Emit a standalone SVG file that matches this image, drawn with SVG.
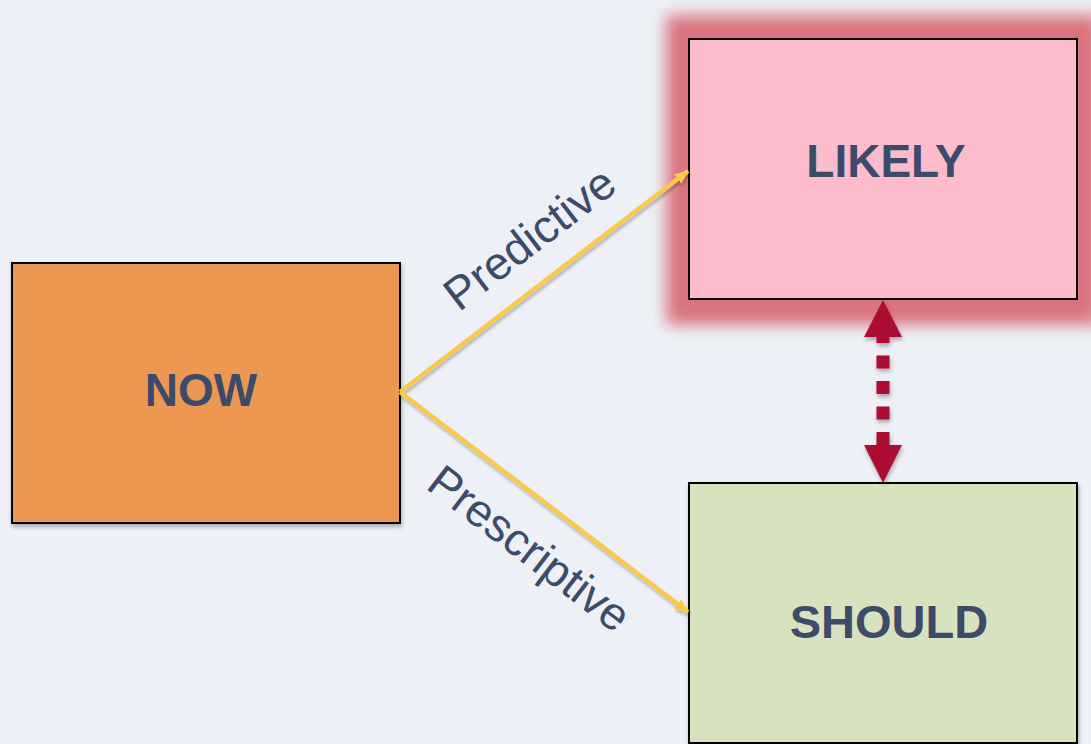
<svg xmlns="http://www.w3.org/2000/svg" width="1091" height="744" viewBox="0 0 1091 744">
<defs>
<style>
.box{stroke:#000;stroke-width:2}
.lbl{font-family:"Liberation Sans",Arial,sans-serif;font-weight:bold;font-size:46px;fill:#3d4b6a;text-anchor:middle}
.elbl{font-family:"Liberation Sans",Arial,sans-serif;font-size:46px;fill:#3d4b6a;text-anchor:middle}
.yl{stroke:#f8c94c;stroke-width:4.5;fill:none}
</style>
<filter id="sh" x="-10%" y="-10%" width="130%" height="130%">
<feGaussianBlur in="SourceAlpha" stdDeviation="2"/>
<feOffset dx="1" dy="3" result="b"/>
<feComponentTransfer><feFuncA type="linear" slope="0.3"/></feComponentTransfer>
<feMerge><feMergeNode/><feMergeNode in="SourceGraphic"/></feMerge>
</filter>
<filter id="lsh" filterUnits="userSpaceOnUse" x="380" y="140" width="330" height="500">
<feGaussianBlur in="SourceAlpha" stdDeviation="1.5"/>
<feOffset dx="1" dy="3"/>
<feComponentTransfer><feFuncA type="linear" slope="0.25"/></feComponentTransfer>
<feMerge><feMergeNode/><feMergeNode in="SourceGraphic"/></feMerge>
</filter>
<filter id="glow" x="-20%" y="-20%" width="140%" height="140%">
<feGaussianBlur stdDeviation="8"/>
</filter>
<marker id="ya" viewBox="0 0 14 12" refX="13" refY="6" markerWidth="14" markerHeight="12" markerUnits="userSpaceOnUse" orient="auto">
<path d="M0,0 L14,6 L0,12 Z" fill="#f8c94c"/>
</marker>
</defs>
<rect width="1091" height="744" fill="#edf1f7"/>
<g id="now">
<rect class="box" x="12" y="263" width="388" height="260" fill="#ec9852" filter="url(#sh)"/>
<text class="lbl" x="201" y="406">NOW</text>
</g>
<g id="likely">
<rect x="666" y="15" width="435" height="310" fill="#d9737f" filter="url(#glow)"/>
<rect class="box" x="689" y="39" width="388" height="260" fill="#fcbccc"/>
<text class="lbl" x="886" y="177">LIKELY</text>
</g>
<g id="should">
<rect class="box" x="689" y="483" width="388" height="260" fill="#d7e3be" filter="url(#sh)"/>
<text class="lbl" x="889" y="638" style="font-size:47px">SHOULD</text>
</g>
<g id="connectors">
<g filter="url(#lsh)">
<line class="yl" x1="400" y1="392" x2="688" y2="171" marker-end="url(#ya)"/>
<line class="yl" x1="400" y1="392" x2="688" y2="612" marker-end="url(#ya)"/>
</g>
<text class="elbl" transform="translate(530,239) rotate(-37.5)" y="15">Predictive</text>
<text class="elbl" transform="translate(529,549) rotate(37.5)" y="15">Prescriptive</text>
<g id="double-arrow" filter="url(#sh)">
<path d="M883 330 V445" stroke="#ad0a33" stroke-width="13" stroke-dasharray="13 12.5" fill="none"/>
<polygon points="883,300 902,337 864,337" fill="#ad0a33"/>
<polygon points="883,483 902,445 864,445" fill="#ad0a33"/>
</g>
</g>
</svg>
